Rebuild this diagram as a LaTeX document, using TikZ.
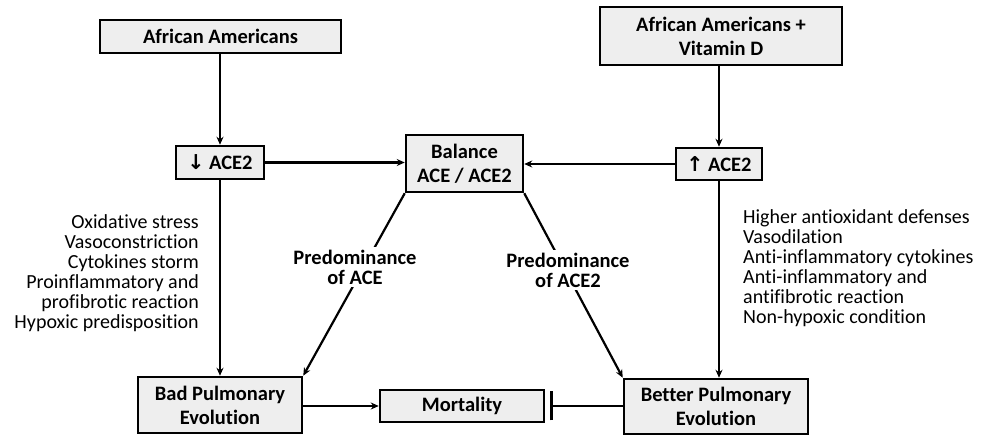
\documentclass[tikz,border=0pt]{standalone}
\usepackage{fontspec}
\setmainfont{Carlito}[Ligatures={NoCommon}]
\newfontfamily\arrowfont{DejaVu Sans}
\usetikzlibrary{arrows.meta}
\definecolor{boxgray}{RGB}{238,238,238}
\tikzset{
  box/.style={draw=black, line width=2.5pt, fill=boxgray, inner sep=0pt, align=center,
    font=\fontsize{20.5}{24}\selectfont\bfseries},
  desc/.style={inner sep=0pt, font=\fontsize{20}{20}\selectfont},
  lbl/.style={fill=white, inner sep=3pt, align=center, font=\fontsize{20.5}{20}\selectfont\bfseries},
  arr/.style={line width=2.2pt, -{Stealth[length=8pt,width=7pt]}},
  inh/.style={line width=2.2pt, -{Bar[width=29pt,line width=2.5pt]}, shorten >=5pt}
}
\begin{document}
\begin{tikzpicture}[x=1pt,y=-1pt]
\useasboundingbox (0,0) rectangle (986,435);
% boxes
\node[box, minimum width=241pt, minimum height=33pt] (aa) at (220.5,36.5) {African Americans};
\node[box, minimum width=242pt, minimum height=58pt] (aavd) at (721,36) {African Americans +\\Vitamin D};
\node[box, minimum width=88pt, minimum height=33pt] (down) at (220,162.5) {{\arrowfont\bfseries ↓} ACE2};
\node[box, minimum width=117pt, minimum height=57pt] (bal) at (464.5,163.5) {Balance\\ACE / ACE2};
\node[box, minimum width=86pt, minimum height=32pt] (up) at (719,164) {{\arrowfont\bfseries ↑} ACE2};
\node[box, minimum width=164pt, minimum height=56pt] (bad) at (220,405) {Bad Pulmonary\\Evolution};
\node[box, minimum width=164pt, minimum height=32pt] (mort) at (462,406) {Mortality};
\node[box, minimum width=184pt, minimum height=55pt] (better) at (716,406.5) {Better Pulmonary\\Evolution};
% descriptions
\node[desc, anchor=east, align=right] (ldesc) at (199,273) {Oxidative stress\\Vasoconstriction\\Cytokines storm\\Proinflammatory and\\profibrotic reaction\\Hypoxic predisposition};
\node[desc, anchor=west, align=left] (rdesc) at (743,268) {Higher antioxidant defenses\\Vasodilation\\Anti-inflammatory cytokines\\Anti-inflammatory and\\antifibrotic reaction\\Non-hypoxic condition};
% connectors
\draw[arr] (down.north |- aa.south) -- (down.north);
\draw[arr] (up.north |- aavd.south) -- (up.north);
\draw[arr] (down.east) -- (down.east -| bal.west);
\draw[arr] (up.west) -- (up.west -| bal.east);
\draw[arr] (down.south) -- (down.south |- bad.north);
\draw[arr] (up.south) -- (up.south |- better.north);
\draw[arr] (bal.south west) -- (bad.north east);
\draw[arr] (bal.south east) -- (better.north west);
\draw[arr] (mort.west -| bad.east) -- (mort.west);
\draw[inh] (mort.east -| better.west) -- (mort.east);
% diagonal labels
\node[lbl] (lace) at (355,267) {Predominance\\of ACE};
\node[lbl] (lace2) at (568,270) {Predominance\\of ACE2};
\end{tikzpicture}
\end{document}
